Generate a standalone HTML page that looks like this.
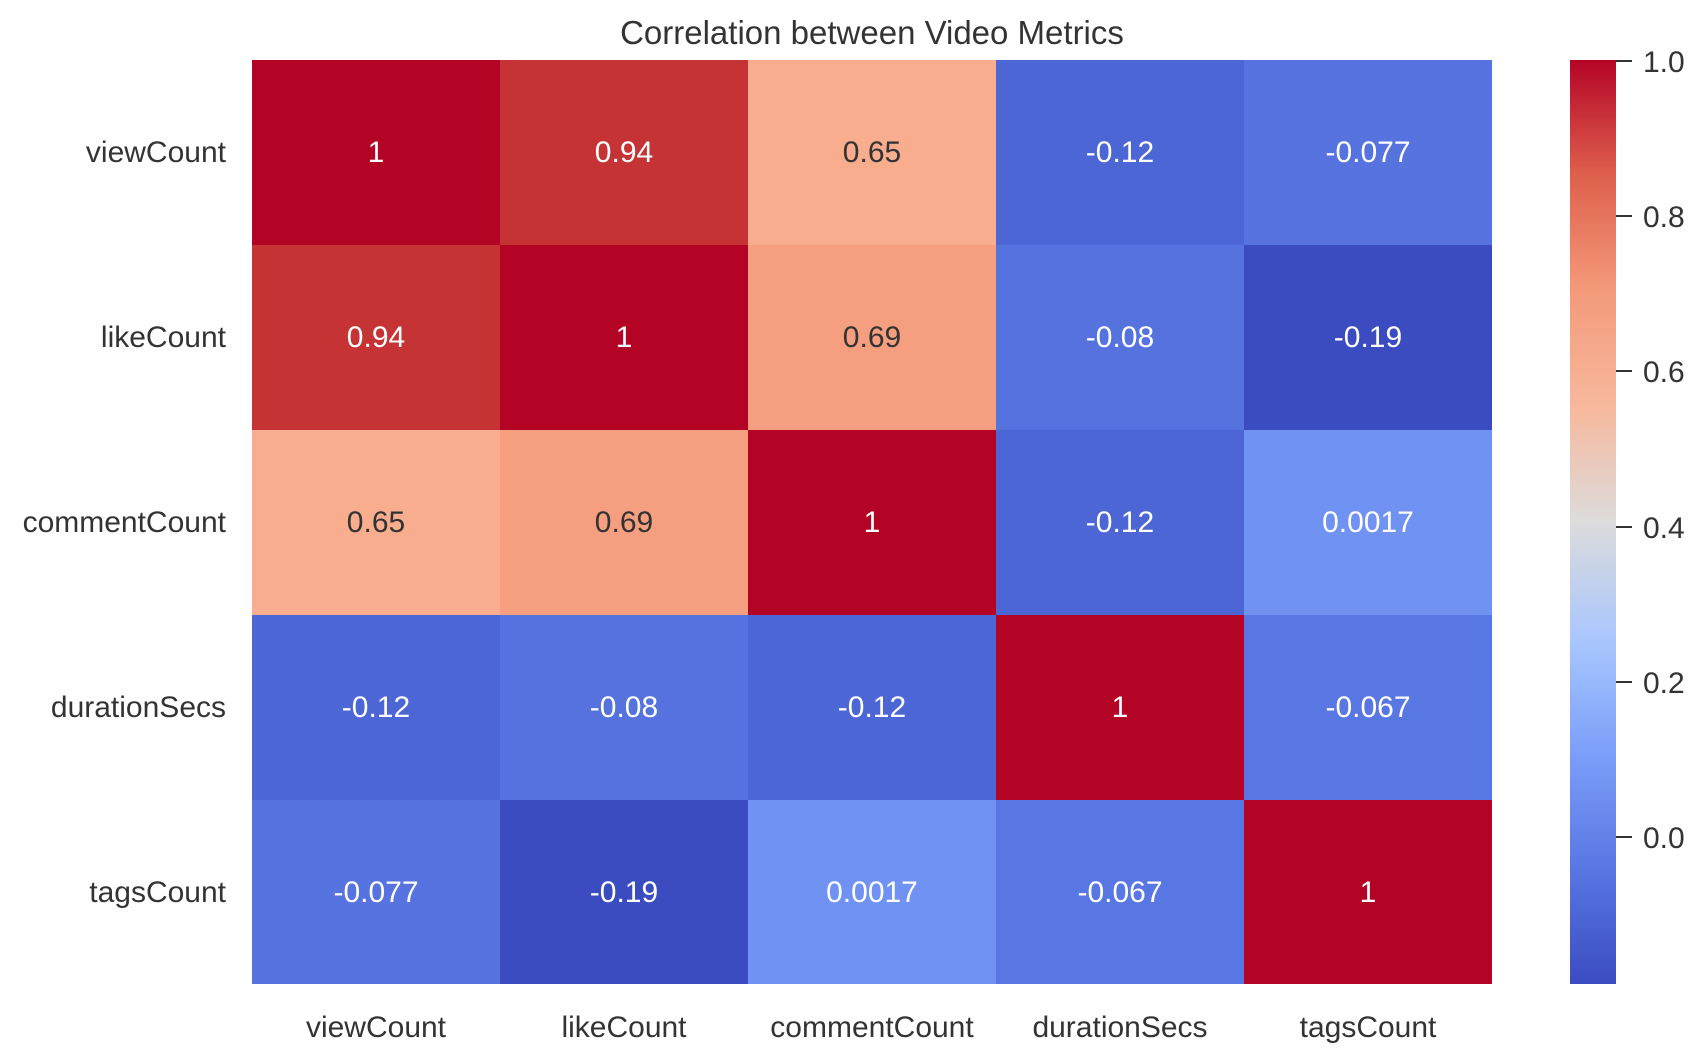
<!DOCTYPE html>
<html><head><meta charset="utf-8"><style>
html,body{margin:0;padding:0;background:#fff;}
svg{display:block;font-family:"Liberation Sans",Arial,sans-serif;}
</style></head><body>
<svg width="1702" height="1056" viewBox="0 0 1702 1056" xmlns="http://www.w3.org/2000/svg">
<defs>
<linearGradient id="cb" x1="0" y1="1" x2="0" y2="0">
<stop offset="0" stop-color="#3b4cc0"/>
<stop offset="0.125" stop-color="#5977e3"/>
<stop offset="0.25" stop-color="#7b9ff9"/>
<stop offset="0.375" stop-color="#aac7fd"/>
<stop offset="0.5" stop-color="#dddcdc"/>
<stop offset="0.625" stop-color="#f7b89c"/>
<stop offset="0.75" stop-color="#f49a7b"/>
<stop offset="0.875" stop-color="#de604d"/>
<stop offset="1" stop-color="#b40426"/>
</linearGradient>
</defs>
<text x="872" y="44" font-size="33" fill="#333" text-anchor="middle">Correlation between Video Metrics</text>
<g>
<rect x="252" y="60" width="248" height="185" fill="#b40426"/>
<rect x="500" y="60" width="248" height="185" fill="#c53334"/>
<rect x="748" y="60" width="248" height="185" fill="#f7ad8e"/>
<rect x="996" y="60" width="248" height="185" fill="#4c66d6"/>
<rect x="1244" y="60" width="248" height="185" fill="#5673e0"/>

<rect x="252" y="245" width="248" height="185" fill="#c53334"/>
<rect x="500" y="245" width="248" height="185" fill="#b40426"/>
<rect x="748" y="245" width="248" height="185" fill="#f59f80"/>
<rect x="996" y="245" width="248" height="185" fill="#5572df"/>
<rect x="1244" y="245" width="248" height="185" fill="#3b4cc0"/>

<rect x="252" y="430" width="248" height="185" fill="#f7ad8e"/>
<rect x="500" y="430" width="248" height="185" fill="#f59f80"/>
<rect x="748" y="430" width="248" height="185" fill="#b40426"/>
<rect x="996" y="430" width="248" height="185" fill="#4c66d6"/>
<rect x="1244" y="430" width="248" height="185" fill="#6f92f3"/>

<rect x="252" y="615" width="248" height="185" fill="#4c66d6"/>
<rect x="500" y="615" width="248" height="185" fill="#5572df"/>
<rect x="748" y="615" width="248" height="185" fill="#4c66d6"/>
<rect x="996" y="615" width="248" height="185" fill="#b40426"/>
<rect x="1244" y="615" width="248" height="185" fill="#5977e3"/>

<rect x="252" y="800" width="248" height="184" fill="#5673e0"/>
<rect x="500" y="800" width="248" height="184" fill="#3b4cc0"/>
<rect x="748" y="800" width="248" height="184" fill="#6f92f3"/>
<rect x="996" y="800" width="248" height="184" fill="#5977e3"/>
<rect x="1244" y="800" width="248" height="184" fill="#b40426"/>
</g>
<g font-size="30" text-anchor="middle" fill="#fff">
<text x="376" y="162">1</text><text x="624" y="162">0.94</text><text x="872" y="162" fill="#333">0.65</text><text x="1120" y="162">-0.12</text><text x="1368" y="162">-0.077</text>
<text x="376" y="347">0.94</text><text x="624" y="347">1</text><text x="872" y="347" fill="#333">0.69</text><text x="1120" y="347">-0.08</text><text x="1368" y="347">-0.19</text>
<text x="376" y="532" fill="#333">0.65</text><text x="624" y="532" fill="#333">0.69</text><text x="872" y="532">1</text><text x="1120" y="532">-0.12</text><text x="1368" y="532">0.0017</text>
<text x="376" y="717">-0.12</text><text x="624" y="717">-0.08</text><text x="872" y="717">-0.12</text><text x="1120" y="717">1</text><text x="1368" y="717">-0.067</text>
<text x="376" y="902">-0.077</text><text x="624" y="902">-0.19</text><text x="872" y="902">0.0017</text><text x="1120" y="902">-0.067</text><text x="1368" y="902">1</text>
</g>
<g font-size="30" text-anchor="end" fill="#333">
<text x="226" y="162">viewCount</text>
<text x="226" y="347">likeCount</text>
<text x="226" y="532">commentCount</text>
<text x="226" y="717">durationSecs</text>
<text x="226" y="902">tagsCount</text>
</g>
<g font-size="30" text-anchor="middle" fill="#333">
<text x="376" y="1037">viewCount</text>
<text x="624" y="1037">likeCount</text>
<text x="872" y="1037">commentCount</text>
<text x="1120" y="1037">durationSecs</text>
<text x="1368" y="1037">tagsCount</text>
</g>
<rect x="1570" y="60" width="46" height="924" fill="url(#cb)"/>
<g stroke="#333" stroke-width="2">
<line x1="1616" y1="61" x2="1632" y2="61"/>
<line x1="1616" y1="216" x2="1632" y2="216"/>
<line x1="1616" y1="371" x2="1632" y2="371"/>
<line x1="1616" y1="527" x2="1632" y2="527"/>
<line x1="1616" y1="682" x2="1632" y2="682"/>
<line x1="1616" y1="837" x2="1632" y2="837"/>
</g>
<g font-size="30" fill="#333">
<text x="1643" y="72">1.0</text>
<text x="1643" y="227">0.8</text>
<text x="1643" y="382">0.6</text>
<text x="1643" y="538">0.4</text>
<text x="1643" y="693">0.2</text>
<text x="1643" y="848">0.0</text>
</g>
</svg>
</body></html>
